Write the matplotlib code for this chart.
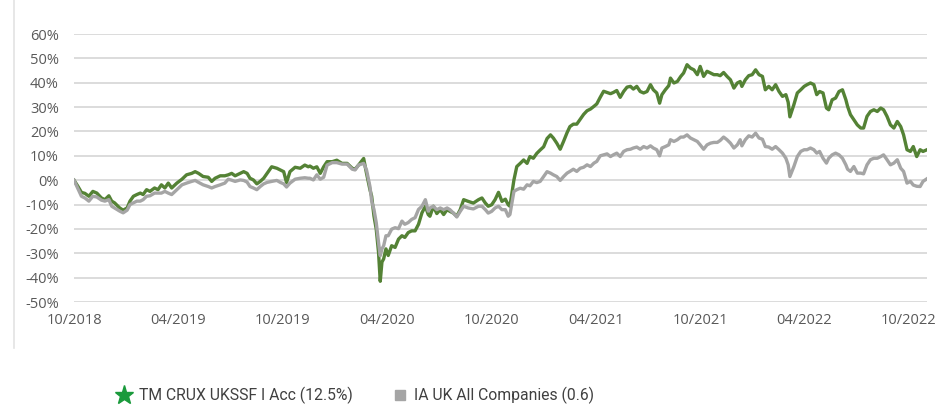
import pandas as pd
import matplotlib.pyplot as plt
import matplotlib.dates as mdates
from matplotlib.lines import Line2D

# Cumulative performance (%)
dates = [
    "2018-10-01", "2018-10-08", "2018-10-14", "2018-10-20", "2018-10-27", "2018-11-03", "2018-11-10", "2018-11-18",
    "2018-11-24", "2018-12-01", "2018-12-06", "2018-12-11", "2018-12-20", "2018-12-26", "2019-01-02", "2019-01-07",
    "2019-01-13", "2019-01-19", "2019-01-25", "2019-01-30", "2019-02-05", "2019-02-11", "2019-02-19", "2019-02-25",
    "2019-03-03", "2019-03-09", "2019-03-15", "2019-03-21", "2019-03-30", "2019-04-08", "2019-04-16", "2019-04-25",
    "2019-05-01", "2019-05-07", "2019-05-15", "2019-05-24", "2019-05-30", "2019-06-05", "2019-06-14", "2019-06-22",
    "2019-06-28", "2019-07-04", "2019-07-10", "2019-07-19", "2019-07-25", "2019-07-31", "2019-08-05", "2019-08-11",
    "2019-08-17", "2019-08-23", "2019-08-29", "2019-09-04", "2019-09-12", "2019-09-21", "2019-09-27", "2019-10-03",
    "2019-10-08", "2019-10-14", "2019-10-23", "2019-11-01", "2019-11-09", "2019-11-15", "2019-11-18", "2019-11-24",
    "2019-11-30", "2019-12-06", "2019-12-12", "2019-12-18", "2019-12-27", "2020-01-04", "2020-01-13", "2020-01-22",
    "2020-01-31", "2020-02-05", "2020-02-11", "2020-02-20", "2020-02-25", "2020-03-02", "2020-03-05", "2020-03-09",
    "2020-03-13", "2020-03-17", "2020-03-20", "2020-03-23", "2020-03-26", "2020-03-30", "2020-04-03", "2020-04-09",
    "2020-04-15", "2020-04-21", "2020-04-27", "2020-05-02", "2020-05-08", "2020-05-14", "2020-05-20", "2020-05-26",
    "2020-06-01", "2020-06-07", "2020-06-12", "2020-06-15", "2020-06-21", "2020-06-27", "2020-07-03", "2020-07-09",
    "2020-07-15", "2020-07-20", "2020-07-26", "2020-08-01", "2020-08-07", "2020-08-13", "2020-08-21", "2020-08-30",
    "2020-09-08", "2020-09-14", "2020-09-20", "2020-09-25", "2020-10-01", "2020-10-07", "2020-10-13", "2020-10-19",
    "2020-10-25", "2020-10-30", "2020-11-02", "2020-11-09", "2020-11-14", "2020-11-20", "2020-11-26", "2020-12-02",
    "2020-12-07", "2020-12-13", "2020-12-19", "2020-12-25", "2020-12-31", "2021-01-06", "2021-01-12", "2021-01-17",
    "2021-01-23", "2021-01-29", "2021-02-04", "2021-02-10", "2021-02-15", "2021-02-21", "2021-02-27", "2021-03-05",
    "2021-03-11", "2021-03-17", "2021-03-23", "2021-03-29", "2021-04-03", "2021-04-09", "2021-04-15", "2021-04-21",
    "2021-04-27", "2021-05-02", "2021-05-08", "2021-05-14", "2021-05-20", "2021-05-26", "2021-06-01", "2021-06-06",
    "2021-06-12", "2021-06-18", "2021-06-24", "2021-06-30", "2021-07-06", "2021-07-11", "2021-07-17", "2021-07-22",
    "2021-07-26", "2021-08-01", "2021-08-07", "2021-08-10", "2021-08-16", "2021-08-22", "2021-08-28", "2021-09-02",
    "2021-09-08", "2021-09-14", "2021-09-20", "2021-09-26", "2021-10-01", "2021-10-07", "2021-10-13", "2021-10-19",
    "2021-10-25", "2021-10-31", "2021-11-05", "2021-11-11", "2021-11-17", "2021-11-23", "2021-11-29", "2021-12-05",
    "2021-12-10", "2021-12-13", "2021-12-19", "2021-12-25", "2021-12-31", "2022-01-06", "2022-01-12", "2022-01-18",
    "2022-01-23", "2022-01-29", "2022-02-04", "2022-02-10", "2022-02-16", "2022-02-22", "2022-02-28", "2022-03-04",
    "2022-03-07", "2022-03-14", "2022-03-20", "2022-03-26", "2022-04-01", "2022-04-06", "2022-04-12", "2022-04-18",
    "2022-04-23", "2022-04-28", "2022-05-04", "2022-05-10", "2022-05-14", "2022-05-20", "2022-05-26", "2022-06-01",
    "2022-06-07", "2022-06-13", "2022-06-16", "2022-06-21", "2022-06-27", "2022-07-03", "2022-07-09", "2022-07-14",
    "2022-07-20", "2022-07-26", "2022-08-01", "2022-08-07", "2022-08-13", "2022-08-18", "2022-08-24", "2022-08-30",
    "2022-09-05", "2022-09-11", "2022-09-17", "2022-09-22", "2022-09-28", "2022-10-04", "2022-10-09", "2022-10-15",
    "2022-10-21", "2022-10-26", "2022-11-02",
]

fund = [
    0, -2.6, -5.0, -5.4, -6.6, -4.6, -5.3, -7.3,
    -8.0, -6.4, -8.6, -9.3, -11.4, -12.3, -11.4, -8.6,
    -6.6, -5.9, -5.3, -5.9, -3.9, -4.6, -3.2, -3.9,
    -1.9, -3.2, -1.2, -3.2, -1.2, 0.4, 2.2, 2.8,
    3.5, 2.8, 1.5, 1.2, -0.5, 0.8, 1.8, 1.8,
    2.2, 2.8, 1.8, 2.8, 3.5, 2.8, 0.8, 0.1,
    -1.5, -0.5, 0.8, 2.8, 5.5, 4.9, 4.2, 3.5,
    -1.0, 3.5, 5.3, 4.9, 6.2, 5.5, 5.8, 4.9,
    5.5, 2.8, 5.5, 7.6, 7.6, 8.2, 6.9, 6.9,
    4.9, 4.5, 6.2, 8.9, 2.8, -3.9, -6.6, -14.7,
    -20.1, -29.6, -41.5, -33.6, -32.3, -28.2, -30.9, -26.9,
    -27.6, -24.2, -22.8, -23.5, -21.5, -20.8, -20.8, -18.1,
    -13.4, -10.7, -14.1, -14.8, -10.7, -13.7, -12.1, -14.1,
    -12.1, -12.8, -13.5, -14.8, -12.1, -8.0, -8.7, -9.4,
    -8.0, -7.3, -9.4, -10.7, -10.1, -8.0, -5.0, -8.7,
    -7.8, -10.1, -10.7, 0.1, 5.6, 6.9, 8.3, 6.9,
    9.7, 9.0, 11.0, 12.4, 13.7, 17.1, 18.6, 17.3,
    15.2, 12.7, 16.0, 19.5, 22.0, 23.0, 23.0, 25.0,
    27.0, 28.5, 29.2, 30.3, 31.3, 34.0, 36.5, 36.0,
    35.5, 36.0, 36.8, 34.0, 36.4, 38.2, 38.5, 37.4,
    38.5, 36.4, 35.8, 36.4, 39.2, 37.1, 35.8, 31.6,
    35.1, 37.1, 38.8, 41.9, 39.9, 40.5, 42.6, 44.0,
    47.4, 46.0, 45.3, 43.3, 46.7, 42.6, 44.7, 44.0,
    43.3, 43.3, 42.9, 44.2, 42.6, 41.2, 37.8, 39.9,
    40.5, 38.5, 41.2, 42.9, 43.3, 45.3, 43.3, 42.6,
    37.1, 38.5, 37.1, 39.2, 36.4, 34.4, 35.1, 32.0,
    26.0, 31.0, 35.8, 37.1, 38.5, 39.2, 39.9, 39.2,
    35.1, 36.4, 35.8, 29.6, 28.9, 33.0, 33.7, 36.4,
    37.1, 33.0, 30.3, 26.9, 24.8, 22.7, 21.4, 21.4,
    26.2, 28.2, 28.9, 28.2, 29.6, 28.9, 26.2, 22.7,
    21.4, 24.1, 22.0, 18.6, 12.5, 11.8, 13.8, 9.7,
    12.5, 11.8, 12.5,
]

sector = [
    0, -3.5, -6.6, -7.3, -8.6, -6.6, -6.9, -8.2,
    -8.6, -8.0, -10.7, -11.4, -12.7, -13.4, -12.3, -10.0,
    -9.3, -8.6, -8.6, -8.0, -6.6, -6.4, -5.3, -5.3,
    -5.3, -4.6, -5.3, -5.9, -3.9, -1.9, -1.2, -0.5,
    -0.1, -0.9, -1.9, -2.6, -3.2, -2.6, -1.9, -1.2,
    0.4, 0.0, -0.5, 0.1, -0.1, -0.8, -2.6, -3.2,
    -3.9, -2.6, -1.5, -0.9, -0.5, -0.1, -0.9, -1.5,
    -2.8, -1.2, 0.4, 0.8, 1.0, 0.8, 0.8, 0.1,
    2.2, 0.4, 1.2, 6.2, 7.2, 7.2, 6.6, 6.6,
    4.5, 4.2, 6.2, 6.9, 4.2, -2.6, -8.6, -12.0,
    -17.4, -25.5, -31.0, -28.2, -26.9, -22.8, -22.8, -20.1,
    -19.5, -19.9, -16.8, -18.1, -17.4, -16.1, -15.4, -12.0,
    -10.7, -8.0, -12.7, -11.4, -10.7, -12.1, -11.4, -12.1,
    -11.4, -12.1, -13.5, -15.1, -12.8, -10.7, -11.4, -11.8,
    -10.7, -10.7, -12.1, -13.5, -12.8, -11.4, -10.7, -12.1,
    -12.1, -14.8, -14.1, -4.6, -3.9, -3.3, -3.7, -1.9,
    -2.3, -0.5, -1.0, -0.5, 1.5, 3.5, 2.9, 2.2,
    1.5, -0.1, 1.5, 2.9, 3.6, 4.5, 3.6, 4.9,
    5.3, 6.3, 5.6, 7.0, 7.7, 10.0, 10.4, 10.8,
    9.7, 10.4, 11.1, 9.7, 11.8, 12.5, 12.7, 13.2,
    13.6, 12.7, 13.8, 13.2, 14.1, 13.2, 12.5, 10.0,
    13.2, 13.8, 14.5, 16.6, 15.9, 16.6, 17.7, 17.7,
    18.6, 17.3, 16.6, 15.9, 14.5, 12.7, 14.5, 15.2,
    15.5, 15.5, 16.3, 17.7, 16.6, 15.2, 13.2, 14.5,
    16.6, 14.1, 16.6, 18.2, 17.7, 19.3, 17.3, 16.8,
    13.8, 13.6, 12.7, 13.8, 12.5, 11.1, 9.0, 6.3,
    1.5, 5.6, 9.7, 11.8, 12.5, 12.5, 13.2, 12.5,
    11.1, 11.8, 9.0, 7.0, 9.0, 10.4, 11.1, 10.4,
    9.0, 6.3, 4.5, 3.6, 5.6, 2.9, 2.9, 2.6,
    6.3, 8.4, 9.0, 9.0, 9.7, 10.4, 8.4, 6.3,
    7.0, 8.4, 4.9, 3.6, -1.2, -0.5, -2.0, -2.5,
    -2.6, -0.5, 0.6,
]

fund_label = "TM CRUX UKSSF I Acc (12.5%)"
sector_label = "IA UK All Companies (0.6)"
tick_dates = ["2018-10-01", "2019-04-01", "2019-10-01", "2020-04-01", "2020-10-01",
              "2021-04-01", "2021-10-01", "2022-04-01", "2022-10-01"]
y_ticks = list(range(-50, 61, 10))

plt.rcParams["font.family"] = ["Open Sans", "DejaVu Sans"]

x = pd.to_datetime(dates)

W, H = 942, 405
fig = plt.figure(figsize=(W / 100, H / 100), dpi=100)
ax = fig.add_axes([74 / W, 103 / H, 853 / W, 268 / H])

ax.plot(x, fund, color="#548235", lw=2.4, solid_joinstyle="round")
ax.plot(x, sector, color="#a5a5a5", lw=2.4, solid_joinstyle="round")

ax.set_xlim(x[0], x[-1])
ax.set_ylim(-50, 60)
ax.set_yticks(y_ticks)
ax.set_yticklabels([f"{v}%" for v in y_ticks])
ax.set_xticks(pd.to_datetime(tick_dates))
ax.xaxis.set_major_formatter(mdates.DateFormatter("%m/%Y"))

ax.grid(axis="y", color="#d9d9d9", lw=1.3)
ax.set_axisbelow(True)
for s in ax.spines.values():
    s.set_visible(False)
ax.tick_params(axis="both", length=0, labelsize=10.5, labelcolor="#595959")
ax.tick_params(axis="y", pad=11)
ax.tick_params(axis="x", pad=8)

# thin frame line on the left edge of the card
fig.add_artist(Line2D([14 / W, 14 / W], [57 / H, 1], color="#e3e3e3", lw=1.2))

# legend below the chart, laid out by hand
leg_y = 10 / H
leg_font = ["Roboto", "DejaVu Sans"]
fig.add_artist(Line2D([124 / W], [leg_y], marker="*", ms=14, color="#1a9a3c", ls="none"))
fig.text(139 / W, leg_y, fund_label, ha="left", va="center", fontsize=11.3,
         color="#404040", family=leg_font)
fig.add_artist(Line2D([400 / W], [leg_y], marker="s", ms=7.5, color="#a5a5a5", ls="none"))
fig.text(414 / W, leg_y, sector_label, ha="left", va="center", fontsize=11.3,
         color="#404040", family=leg_font)

fig.savefig("out.png", dpi=100)
